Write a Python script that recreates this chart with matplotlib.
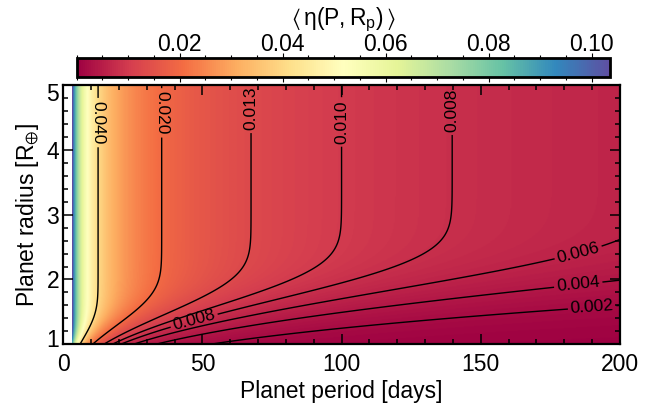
import math
import numpy as np
import matplotlib
matplotlib.use("Agg")
import matplotlib.pyplot as plt
import matplotlib.transforms as mtransforms
from matplotlib.ticker import MultipleLocator, FormatStrFormatter

plt.rcParams['font.family'] = ['Liberation Sans', 'DejaVu Sans']
plt.rcParams['mathtext.fontset'] = 'custom'
plt.rcParams['mathtext.rm'] = 'Liberation Sans'
plt.rcParams['mathtext.it'] = 'Liberation Sans:italic'
plt.rcParams['mathtext.fallback'] = 'stixsans'

# Period and radius span of the efficiency map
period_range = [3.0, 200.0]      # days
radius_range = [1.0, 5.0]        # Earth radii

# Geometric transit probability:  geo_norm * P^geo_index
geo_norm = 0.2154
geo_index = -2.0 / 3.0
# Detection completeness: Phi((R / R50(P) - 1) / comp_width),  R50 = r50_coeff * P^r50_index
r50_coeff = 0.66
r50_index = 0.192
comp_width = 0.26

contour_levels = [0.002, 0.004, 0.006, 0.008, 0.010, 0.013, 0.020, 0.040]
# label placement: level, fixed coordinate, and which axis that coordinate is on
label_levels = [0.040, 0.020, 0.013, 0.010, 0.008, 0.008, 0.006, 0.004, 0.002]
label_coords = [4.42, 4.57, 4.64, 4.43, 4.61, 47.0, 185.0, 185.0, 190.0]
label_axes = ['R', 'R', 'R', 'R', 'R', 'P', 'P', 'P', 'P']

cbar_ticks = [0.02, 0.04, 0.06, 0.08, 0.10]

_erf = np.vectorize(math.erf)


def efficiency(P, R):
    geo = geo_norm * np.power(P, geo_index)
    r50 = r50_coeff * np.power(P, r50_index)
    z = (R / r50 - 1.0) / comp_width
    comp = 0.5 * (1.0 + _erf(z / np.sqrt(2.0)))
    return geo * comp


periods = np.linspace(period_range[0], period_range[1], 500)
radii = np.linspace(radius_range[0], radius_range[1], 400)
PP, RR = np.meshgrid(periods, radii)
eta = efficiency(PP, RR)

fig = plt.figure(figsize=(6.56, 4.12), dpi=100)
ax = fig.add_axes([63.3 / 656, 1 - 344.3 / 412, (620 - 63.3) / 656, (344.3 - 85) / 412])
cax = fig.add_axes([76.7 / 656, 1 - 76.7 / 412, (610 - 76.7) / 656, (76.7 - 58.3) / 412])

im = ax.imshow(eta, origin='lower', aspect='auto', cmap='Spectral',
               extent=[period_range[0], period_range[1], radius_range[0], radius_range[1]],
               vmin=0.0, vmax=eta.max(), interpolation='bilinear')

cs = ax.contour(PP, RR, eta, levels=contour_levels, colors='black', linewidths=1.0)

# put each label on its contour
fine_p = np.linspace(period_range[0], period_range[1], 4000)
fine_r = np.linspace(radius_range[0], radius_range[1], 4000)
spots = []
for lev, c, kind in zip(label_levels, label_coords, label_axes):
    if kind == 'R':
        vals = efficiency(fine_p, np.full_like(fine_p, c))
        i = np.argmin(np.abs(vals - lev))
        spots.append((fine_p[i], c))
    else:
        vals = efficiency(np.full_like(fine_r, c), fine_r)
        i = np.argmin(np.abs(vals - lev))
        spots.append((c, fine_r[i]))
ax.clabel(cs, manual=spots, fmt='%.3f', fontsize=12.5, inline=True, inline_spacing=3)

ax.set_xlim(0, 200)
ax.set_ylim(1, 5)
ax.set_xticks([0, 50, 100, 150, 200])
ax.set_yticks([1, 2, 3, 4, 5])
ax.xaxis.set_minor_locator(MultipleLocator(10))
ax.yaxis.set_minor_locator(MultipleLocator(0.2))
ax.tick_params(which='both', direction='in', top=True, right=True, labelsize=16.5, width=1.1)
ax.tick_params(which='major', length=7)
ax.tick_params(which='minor', length=3.5)
ax.tick_params(axis='x', pad=6)
ax.tick_params(axis='y', pad=3)
for s in ax.spines.values():
    s.set_linewidth(1.6)

# keep the end labels of the radius axis inside the frame
yt = ax.yaxis.get_major_ticks()
yt[0].label1.set_transform(yt[0].label1.get_transform() +
                           mtransforms.ScaledTranslation(0, 0.06, fig.dpi_scale_trans))
yt[-1].label1.set_transform(yt[-1].label1.get_transform() +
                            mtransforms.ScaledTranslation(0, -0.07, fig.dpi_scale_trans))

ax.set_xlabel('Planet period [days]', fontsize=16.5, labelpad=3)
ax.set_ylabel(r'Planet radius [R$_{\oplus}$]', fontsize=16.5, labelpad=4)

cb = fig.colorbar(im, cax=cax, orientation='horizontal')
cb.set_ticks(cbar_ticks)
cb.ax.xaxis.set_major_formatter(FormatStrFormatter('%.2f'))
cb.ax.xaxis.set_minor_locator(MultipleLocator(0.005))
cb.ax.tick_params(which='both', direction='out', top=True, bottom=True,
                  labeltop=True, labelbottom=False, labelsize=16.5, width=0.8, pad=-2)
cb.ax.tick_params(which='major', length=3.5)
cb.ax.tick_params(which='minor', length=2)
cb.outline.set_linewidth(2.0)

fig.text((76.7 + 610) / 2 / 656, 1 - 20 / 412,
         r'$\langle\,\mathregular{\eta(P,R_p)}\,\rangle$',
         ha='center', va='center', fontsize=16.5)

fig.savefig('out.png', dpi=100)
